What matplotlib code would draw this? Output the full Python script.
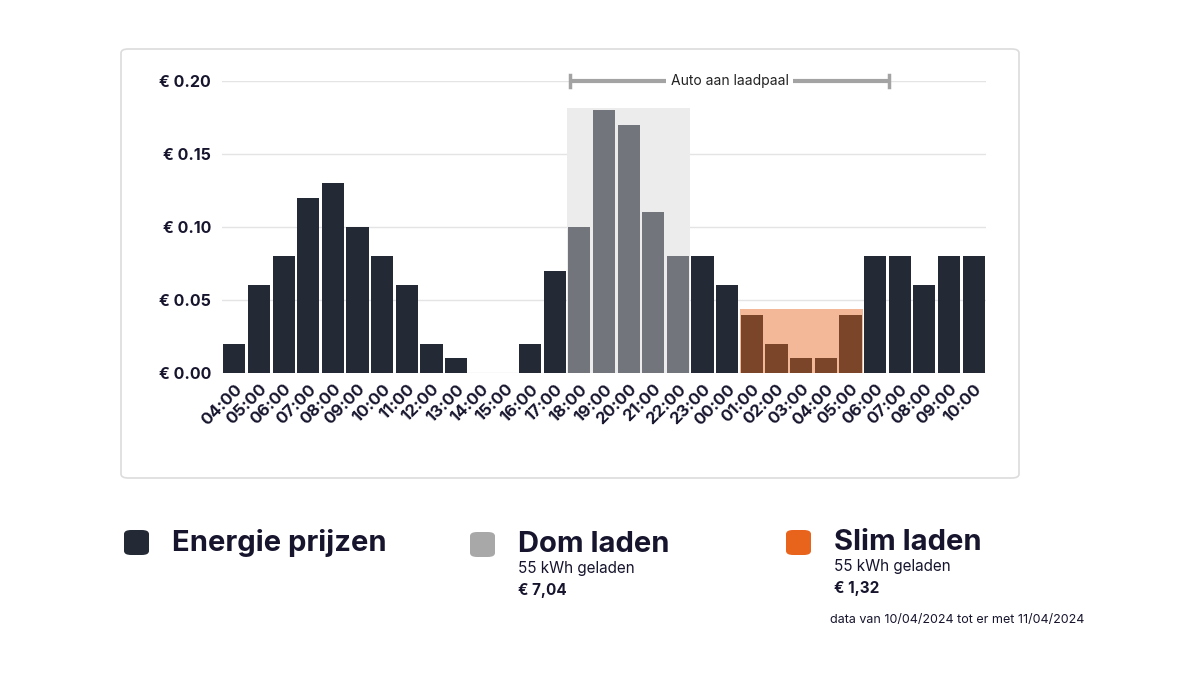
import matplotlib.pyplot as plt
from matplotlib.patches import FancyBboxPatch, Rectangle

plt.rcParams['font.family'] = ['Inter', 'DejaVu Sans']

# data
hours = ['04:00', '05:00', '06:00', '07:00', '08:00', '09:00', '10:00', '11:00',
         '12:00', '13:00', '14:00', '15:00', '16:00', '17:00', '18:00', '19:00',
         '20:00', '21:00', '22:00', '23:00', '00:00', '01:00', '02:00', '03:00',
         '04:00', '05:00', '06:00', '07:00', '08:00', '09:00', '10:00']
prices = [0.02, 0.06, 0.08, 0.12, 0.13, 0.10, 0.08, 0.06,
          0.02, 0.01, 0.00, 0.00, 0.02, 0.07, 0.10, 0.18,
          0.17, 0.11, 0.08, 0.08, 0.06, 0.04, 0.02, 0.01,
          0.01, 0.04, 0.08, 0.08, 0.06, 0.08, 0.08]
dom_slots = [14, 15, 16, 17, 18]      # 18:00 - 22:00
slim_slots = [21, 22, 23, 24, 25]     # 01:00 - 05:00
dom_band = 0.1815
slim_band = 0.0438
plugged = (13.62, 26.56)              # auto aan laadpaal
yticks = [0.0, 0.05, 0.10, 0.15, 0.20]

DARK = '#232a35'
GREY_BAR = '#72767c'
BROWN = '#7a4529'
NAVY = '#16152d'

fig = plt.figure(figsize=(12, 6.75), dpi=100)

# panel around chart
panel = FancyBboxPatch((121 / 1200, 1 - 478 / 675), (1019 - 121) / 1200, (478 - 49) / 675,
                       boxstyle='round,pad=0,rounding_size=0.006', transform=fig.transFigure,
                       facecolor='white', edgecolor='#dcdcdc', linewidth=1.2, zorder=-5)
fig.patches.append(panel)

ax = fig.add_axes([222 / 1200, 302 / 675, 764 / 1200, 292 / 675])
ax.set_zorder(2)
ax.patch.set_alpha(0)
ax.set_xlim(-0.5, len(prices) - 0.5)
ax.set_ylim(0, 0.2)

colors = []
for i in range(len(prices)):
    if i in dom_slots:
        colors.append(GREY_BAR)
    elif i in slim_slots:
        colors.append(BROWN)
    else:
        colors.append(DARK)

# shaded charging windows
ax.add_patch(Rectangle((dom_slots[0] - 0.5, 0), len(dom_slots), dom_band,
                       facecolor='#ececec', edgecolor='none', zorder=1))
ax.add_patch(Rectangle((slim_slots[0] - 0.5, 0), len(slim_slots), slim_band,
                       facecolor='#f3b898', edgecolor='none', zorder=1))

x = list(range(len(prices)))
ax.bar(x, prices, width=0.9, color=colors, zorder=3)

for t in yticks:
    ax.axhline(t, color='#e4e4e4', linewidth=1, zorder=0)

ax.set_yticks(yticks)
ax.set_yticklabels([f'€ {t:.2f}' for t in yticks], fontsize=11.5, fontweight='bold', color=NAVY)
ax.set_xticks(x)
ax.set_xticklabels(hours, rotation=45, ha='right', rotation_mode='anchor',
                   fontsize=12, fontweight='bold', color=NAVY)
ax.tick_params(length=0, pad=8)
ax.tick_params(axis='x', pad=6)
for s in ax.spines.values():
    s.set_visible(False)

# auto aan laadpaal bracket
by = 0.2
ax.plot(plugged, [by, by], color='#a3a3a3', linewidth=3, clip_on=False, zorder=4,
        solid_capstyle='butt')
for xe in plugged:
    ax.plot([xe, xe], [by - 0.004, by + 0.004], color='#a3a3a3', linewidth=2.5,
            clip_on=False, zorder=4)
ax.text(sum(plugged) / 2, by, 'Auto aan laadpaal', ha='center', va='center', fontsize=10,
        color='#222222', zorder=5, bbox=dict(facecolor='white', edgecolor='none', pad=3))

# legend
def fx(px):
    return px / 1200

def fy(py):
    return 1 - py / 675

legend_items = [
    (124, 530, DARK, 'Energie prijzen', None, None),
    (470, 532, '#a8a8a8', 'Dom laden', '55 kWh geladen', '€ 7,04'),
    (786, 530, '#e8641c', 'Slim laden', '55 kWh geladen', '€ 1,32'),
]
for px, py, col, title, sub, cost in legend_items:
    fig.patches.append(FancyBboxPatch((fx(px), fy(py + 25)), 25 / 1200, 25 / 675,
                                      boxstyle='round,pad=0,rounding_size=0.006',
                                      transform=fig.transFigure, facecolor=col,
                                      edgecolor='none'))
    tx = px + 48
    fig.text(fx(tx), fy(py + 13), title, fontsize=21, fontweight='bold', color=NAVY,
             va='center', ha='left')
    if sub:
        fig.text(fx(tx), fy(py + 37), sub, fontsize=11, color=NAVY, va='center', ha='left')
        fig.text(fx(tx), fy(py + 59), cost, fontsize=11, fontweight='bold', color=NAVY,
                 va='center', ha='left')

fig.text(fx(830), fy(620), 'data van 10/04/2024 tot er met 11/04/2024', fontsize=9,
         color=NAVY, va='center', ha='left')

fig.savefig('out.png', dpi=100)
